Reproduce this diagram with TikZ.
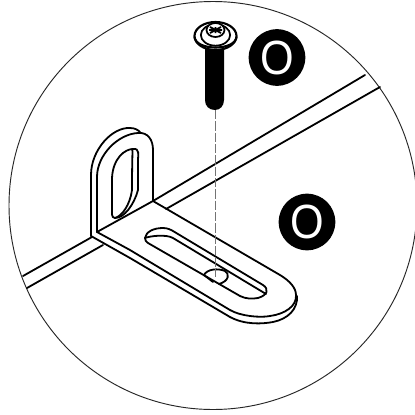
\documentclass[tikz,border=0pt]{standalone}
\usepackage{fontspec}
\setmainfont{Liberation Sans}
\tikzset{
  edge/.style={line width=1.35pt,line join=round,line cap=round,black},
  thin edge/.style={line width=1.3pt,black},
  callout/.style={circle,fill=black,minimum size=42.5pt,inner sep=0pt,text=white,font=\fontsize{36}{36}\selectfont}
}
\newcommand{\narrowO}{\scalebox{0.9}[1]{O}}
\begin{document}
\begin{tikzpicture}[x=0.75pt,y=-0.75pt]
\useasboundingbox (0,0) rectangle (415,415);
\fill[white] (0,0) rectangle (415,415);
% circle frame
\draw[line width=0.7pt,black!85] (213,205.5) circle [radius=153pt];
% floor lines
\draw[edge] (23,276) -- (92,237);
\draw[edge] (27,288) -- (103,245);
\draw[edge] (153,201) -- (365,75);
\draw[edge] (166,209) -- (380,87);
% bracket upright, back
\draw[edge] (91,236) -- (91,175) .. controls (91,150) and (112,127) .. (130,128) .. controls (135,128) and (138,130) .. (140,132);
% bracket upright, front
\draw[edge] (97,232) -- (97,177) .. controls (97,155) and (118,134) .. (138,133) .. controls (148,132) and (153,140) .. (153,150) -- (153,201);
\draw[edge] (97,232) -- (153,201);
% upright slot
\draw[edge] (112,178) .. controls (113,158) and (125,149) .. (133,149) .. controls (140,148) and (138,155) .. (138,160) -- (138,190) .. controls (134,205) and (124,218) .. (115,218) .. controls (111,218) and (112,212) .. (112,208) -- cycle;
\draw[edge] (132,149) .. controls (133,150) and (132,155) .. (132,190) .. controls (130,205) and (122,216) .. (115,218);
% base plate
\draw[edge] (97,232) -- (130,250) -- (230,310) .. controls (240,316) and (260,318) .. (270,316) .. controls (285,314) and (297,306) .. (296,295) .. controls (296,288) and (290,281) .. (280,275) -- (153,201);
\draw[edge] (91,236) -- (130,258) -- (230,317) .. controls (245,325) and (262,324) .. (273,322) .. controls (288,319) and (298,309) .. (297,296);
% plate slot
\draw[edge] (145,238) .. controls (146,232) and (153,228) .. (163,228) .. controls (168,228) and (171,230) .. (173,231) -- (263,285) .. controls (269,289) and (268,295) .. (258,298) .. controls (252,299) and (246,299) .. (240,296) -- (148,243) .. controls (146,242) and (145,240) .. (145,238) -- cycle;
\draw[edge] (145,238) .. controls (150,236) and (166,234) .. (173,238) -- (266,294);
% hole
\draw[edge] (204,275) .. controls (207,269) and (218,268) .. (225,271) .. controls (230,274) and (229,281) .. (219,284);
\draw[edge] (204,275) -- (213,282);
% axis
\draw[line width=0.7pt,black!55,dash pattern=on 7pt off 1.5pt] (215,110) -- (215,277);
% screw thread
\fill[black] (205,46) -- (224,46) -- (224,100) .. controls (224,106) and (220,110) .. (215,110) .. controls (209,110) and (205,106) .. (205,100) -- cycle;
% washer and head
\draw[edge,line width=1.6pt,fill=white] (215.5,36) ellipse [x radius=15.75pt,y radius=10.5pt];
\draw[edge,line width=1.6pt] (194.5,37) .. controls (196,51) and (235,51) .. (236.5,37);
\draw[thin edge,fill=white] (215.5,35) ellipse [x radius=11pt,y radius=8pt];
\draw[thin edge,fill=white] (215.5,30) ellipse [x radius=6.75pt,y radius=5.25pt];
% cross recess
\draw[line width=1.4pt,black] (209,30) -- (222,30) (215.5,27) -- (215.5,33) (210,27) -- (221,33) (221,27) -- (210,33);
% callouts
\node[callout] (callA) at (277,57.5) {\narrowO};
\node[callout] (callB) at (307,222) {\narrowO};
\end{tikzpicture}
\end{document}
